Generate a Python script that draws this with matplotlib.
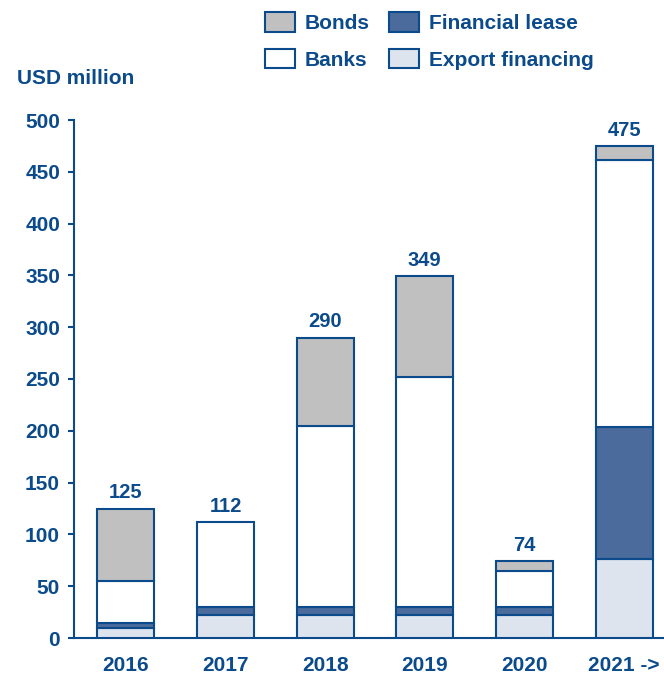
import numpy as np
import matplotlib.pyplot as plt
from matplotlib.patches import Patch

plt.rcParams['font.family'] = ['Liberation Sans', 'DejaVu Sans']
plt.rcParams['font.weight'] = 'bold'

years = ['2016', '2017', '2018', '2019', '2020', '2021 ->']
export_fin = [10, 22, 22, 22, 22, 76]
fin_lease = [4, 8, 8, 8, 8, 128]
banks = [41, 82, 175, 222, 35, 257]
bonds = [70, 0, 85, 97, 9, 14]
totals = [125, 112, 290, 349, 74, 475]

navy = '#0b4a8b'
c_bonds = '#c0c0c0'
c_lease = '#4a6b9b'
c_banks = '#ffffff'
c_export = '#dde4ee'

fig = plt.figure(figsize=(6.64, 6.77), dpi=100)
ax = fig.add_axes([74/664, 39/677, 590/664, 518/677])

x = np.arange(len(years))
w = 0.57
series = [(export_fin, c_export), (fin_lease, c_lease), (banks, c_banks), (bonds, c_bonds)]
bottom = np.zeros(len(years))
for vals, col in series:
    vals = np.array(vals, dtype=float)
    mask = vals > 0
    ax.bar(x[mask], vals[mask], w, bottom=bottom[mask], color=col,
           edgecolor=navy, linewidth=1.5, zorder=3)
    bottom += vals

for xi, t in zip(x, totals):
    ax.text(xi, t + 6, str(t), ha='center', va='bottom', color=navy,
            fontsize=14.5, fontweight='bold')

ax.set_xlim(-0.52, 5.4)
ax.set_ylim(0, 500)
ax.set_yticks(range(0, 501, 50))
ax.set_xticks(x)
ax.set_xticklabels(years)
for s in ['top', 'right']:
    ax.spines[s].set_visible(False)
for s in ['left', 'bottom']:
    ax.spines[s].set_color(navy)
    ax.spines[s].set_linewidth(1.5)
ax.tick_params(axis='y', colors=navy, labelsize=15, length=4, width=1.5, direction='out', pad=6)
ax.tick_params(axis='x', colors=navy, labelsize=15, length=0, pad=13)
for lbl in ax.get_xticklabels() + ax.get_yticklabels():
    lbl.set_fontweight('bold')

fig.text(17/664, 1 - 78/677, 'USD million', color=navy, fontsize=15,
         fontweight='bold', va='center', ha='left')

handles = [Patch(facecolor=c_bonds, edgecolor=navy, linewidth=1.5, label='Bonds'),
           Patch(facecolor=c_banks, edgecolor=navy, linewidth=1.5, label='Banks'),
           Patch(facecolor=c_lease, edgecolor=navy, linewidth=1.5, label='Financial lease'),
           Patch(facecolor=c_export, edgecolor=navy, linewidth=1.5, label='Export financing')]
leg = fig.legend(handles=handles, ncol=2, loc='upper left',
                 bbox_to_anchor=(255/664, 1 - 2/677), frameon=False, borderpad=0,
                 fontsize=15, handlelength=1.43, handleheight=1.05,
                 columnspacing=0.95, labelspacing=0.75, handletextpad=0.45)
for t in leg.get_texts():
    t.set_color(navy)
    t.set_fontweight('bold')

fig.savefig('out.png', dpi=100)
